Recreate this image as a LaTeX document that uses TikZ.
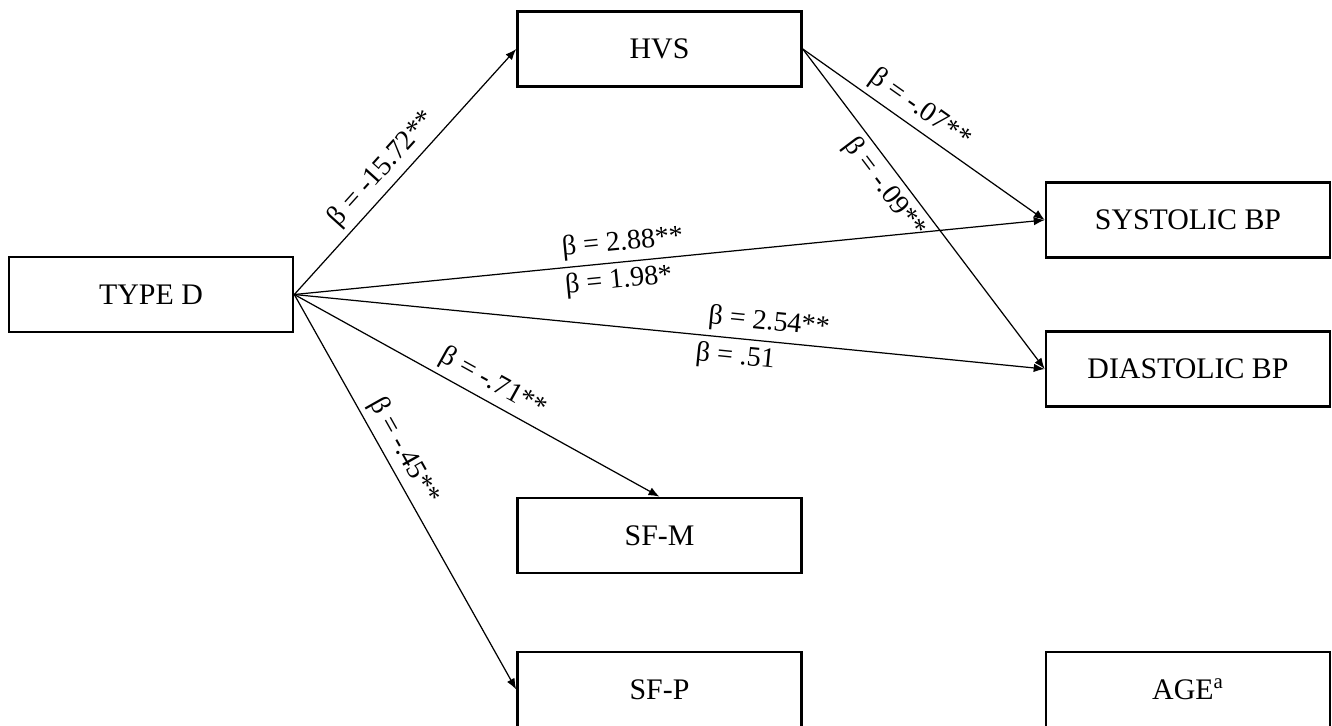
\documentclass[tikz,border=0pt]{standalone}
\usepackage{fontspec}
\setmainfont{Liberation Serif}
\usepackage{tikz}
\usetikzlibrary{arrows,arrows.meta,shapes}
\tikzstyle{edge} = [draw,line width=0.7pt,-]
\tikzstyle{dedge} = [draw,line width=0.7pt,-{Latex[length=2.2mm,width=1.7mm]}]
\tikzset{
  varbox/.style = {rectangle, draw=black, line width=1.5pt, align=center,
    minimum width=5.68cm, minimum height=1.5cm, inner sep=0pt,
    font=\fontsize{17}{20}\selectfont},% boite de variable
  coef/.style = {sloped, inner sep=3pt, font=\fontsize{16}{18}\selectfont},% coefficient beta
}
\begin{document}
\begin{tikzpicture}[x=0.02cm,y=-0.02cm]

    \node[varbox] (typed) at (151,294.5) {TYPE D};
    \node[varbox] (hvs) at (659.5,49) {HVS};
    \node[varbox] (sys) at (1188,220) {SYSTOLIC BP};
    \node[varbox] (dia) at (1188,369) {DIASTOLIC BP};
    \node[varbox] (sfm) at (659.5,535.5) {SF-M};
    \node[varbox] (sfp) at (659.5,689.5) {SF-P};
    \node[varbox] (age) at (1188,689.5) {AGE\textsuperscript{a}};

    \path[dedge] (typed.east) -- node[coef, above, pos=0.46] {β = -15.72**} (hvs.west);
    \path[dedge] (typed.east) -- node[coef, above, pos=0.44] {β = 2.88**}
                                 node[coef, below, pos=0.43] {β = 1.98*} (sys.west);
    \path[dedge] (typed.east) -- node[coef, above, pos=0.63] {β = 2.54**}
                                 node[coef, below, pos=0.59] {β = .51} (dia.west);
    \path[dedge] (typed.east) -- node[coef, above, pos=0.52] {β = -.71**} (sfm.north);
    \path[dedge] (typed.east) -- node[coef, above, pos=0.42] {β = -.45**} (sfp.west);
    \path[dedge] (hvs.east) -- node[coef, above, pos=0.44] {β = -.07**} (sys.west);
    \path[dedge] (hvs.east) -- node[coef, below, pos=0.40] {β = -.09**} (dia.west);

    \pgfresetboundingbox
    \path [use as bounding box] (0,0) rectangle (1332,725);
\end{tikzpicture}
\end{document}
